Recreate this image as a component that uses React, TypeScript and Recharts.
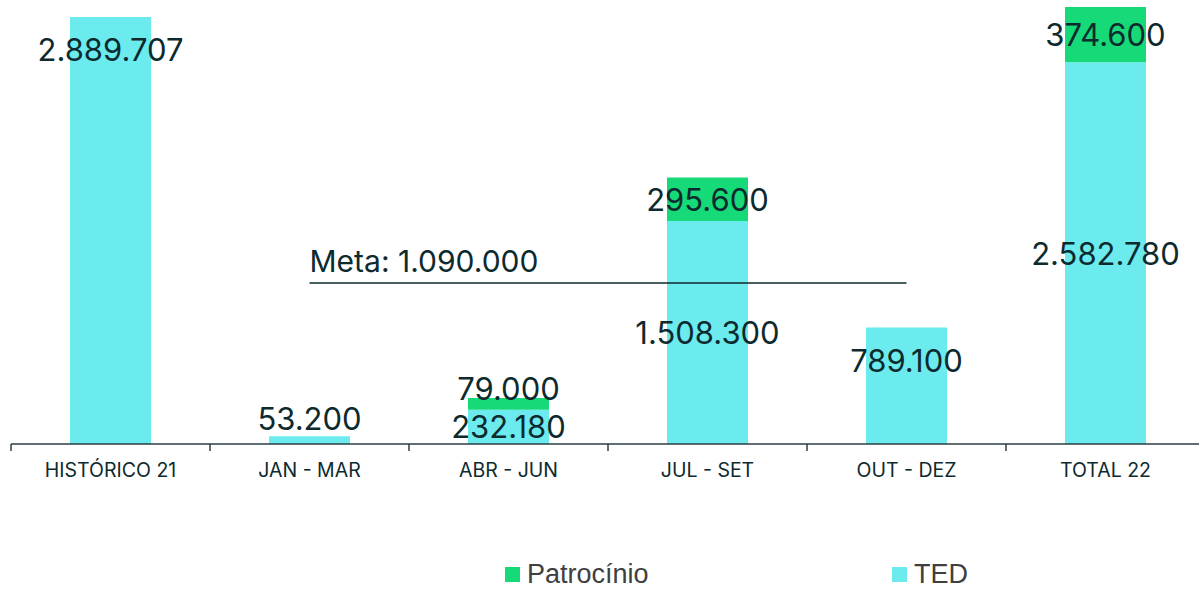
import React from "react";
import { BarChart, Bar, XAxis, YAxis, ReferenceLine, LabelList } from "recharts";

const categories = ["HISTÓRICO 21", "JAN - MAR", "ABR - JUN", "JUL - SET", "OUT - DEZ", "TOTAL 22"];
const tedValues = [2889707, 53200, 232180, 1508300, 789100, 2582780];
const patrocinioValues = [null, null, 79000, 295600, null, 374600];
const metaValue = 1090000;
const metaStart = "JAN - MAR";
const metaEnd = "OUT - DEZ";

const tedLabelPlacement = ["insideTop", "top", "center", "center", "insideTop", "center"];
const patLabelPlacement = ["center", "center", "topTight", "center", "center", "center"];

const data = categories.map((c, i) => ({
  name: c,
  ted: tedValues[i],
  pat: patrocinioValues[i],
}));

const TED_COLOR = "#6BEBEE";
const PAT_COLOR = "#16D977";
const TEXT_COLOR = "#0D2A2E";
const AXIS_COLOR = "#2A3F42";
const LABEL_FONT = "Inter, 'Noto Sans', sans-serif";

const PLOT_LEFT = 11;
const PLOT_WIDTH = 1194;

const fmt = (v: number) => v.toLocaleString("de-DE");

const makeLabel = (values: (number | null)[], placement: string[]) => (props: any) => {
  const { x, y, width, height, value } = props;
  if (value == null) return null;
  const idx = values.findIndex((v) => v === Number(value));
  const mode = placement[idx];
  const cx = x + width / 2;
  let cy = y + height / 2;
  if (mode === "insideTop") cy = y + 33;
  if (mode === "top") cy = y - 18;
  if (mode === "topTight") cy = y - 10;
  return (
    <text
      x={cx}
      y={cy}
      textAnchor="middle"
      dominantBaseline="central"
      fill={TEXT_COLOR}
      fontFamily={LABEL_FONT}
      fontSize={31}
    >
      {fmt(Number(value))}
    </text>
  );
};

const CustomTick = (props: any) => {
  const { x, payload } = props;
  const half = PLOT_WIDTH / categories.length / 2;
  return (
    <g>
      <line x1={x - half} x2={x - half} y1={444} y2={451} stroke={AXIS_COLOR} strokeWidth={1.5} />
      <text
        x={x}
        y={477}
        textAnchor="middle"
        fill={TEXT_COLOR}
        fontFamily={LABEL_FONT}
        fontSize={19.5}
      >
        {payload.value}
      </text>
    </g>
  );
};

const MetaLabel = (props: any) => {
  const vb = props.viewBox || {};
  return (
    <text
      x={vb.x}
      y={vb.y - 11}
      fill={TEXT_COLOR}
      fontFamily={LABEL_FONT}
      fontSize={30}
    >
      {`Meta: ${fmt(metaValue)}`}
    </text>
  );
};

export default function App() {
  const maxTotal = Math.max(...tedValues.map((v, i) => v + (patrocinioValues[i] || 0)));
  return (
    <div
      style={{
        position: "absolute",
        left: 0,
        top: 0,
        width: 1199,
        height: 590,
        background: "#fff",
        overflow: "hidden",
      }}
    >
      <BarChart
        width={PLOT_LEFT + PLOT_WIDTH}
        height={590}
        data={data}
        margin={{ top: 7, right: 0, bottom: 0, left: PLOT_LEFT }}
        barCategoryGap={0}
      >
        <YAxis hide domain={[0, maxTotal]} />
        <XAxis
          dataKey="name"
          height={146}
          tickLine={false}
          axisLine={{ stroke: AXIS_COLOR, strokeWidth: 1.5 }}
          tick={<CustomTick />}
          interval={0}
        />
        <Bar dataKey="ted" stackId="a" fill={TED_COLOR} barSize={81} isAnimationActive={false}>
          <LabelList dataKey="ted" content={makeLabel(tedValues, tedLabelPlacement)} />
        </Bar>
        <Bar dataKey="pat" stackId="a" fill={PAT_COLOR} barSize={81} isAnimationActive={false}>
          <LabelList dataKey="pat" content={makeLabel(patrocinioValues, patLabelPlacement)} />
        </Bar>
        <ReferenceLine
          segment={[
            { x: metaStart, y: metaValue },
            { x: metaEnd, y: metaValue },
          ]}
          stroke={TEXT_COLOR}
          strokeWidth={1.5}
          label={<MetaLabel />}
        />
      </BarChart>
      <div
        style={{
          position: "absolute",
          top: 561,
          left: 0,
          width: 1199,
          height: 26,
          fontFamily: "'Liberation Sans', Arial, sans-serif",
          fontSize: 27,
          lineHeight: "26px",
          color: "#404040",
        }}
      >
        <div style={{ position: "absolute", left: 505, top: 0, display: "flex", alignItems: "center" }}>
          <span style={{ display: "inline-block", width: 15, height: 15, background: PAT_COLOR, marginRight: 7 }} />
          <span>Patrocínio</span>
        </div>
        <div style={{ position: "absolute", left: 892, top: 0, display: "flex", alignItems: "center" }}>
          <span style={{ display: "inline-block", width: 15, height: 15, background: TED_COLOR, marginRight: 7 }} />
          <span>TED</span>
        </div>
      </div>
    </div>
  );
}
